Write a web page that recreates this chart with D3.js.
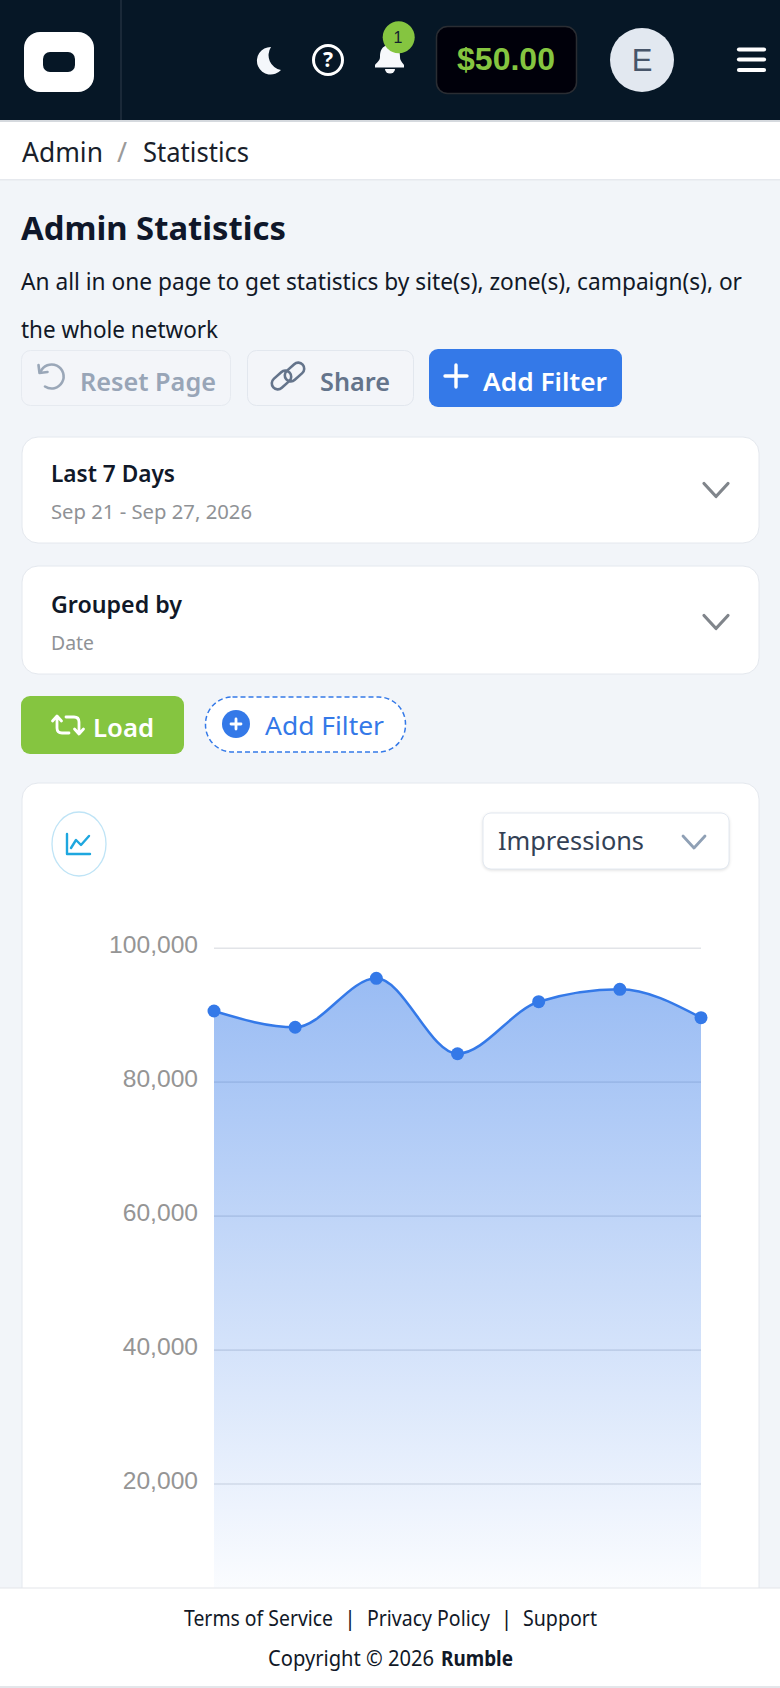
<!DOCTYPE html>
<html>
<head>
<meta charset="utf-8">
<script src="https://cdn.jsdelivr.net/npm/d3@7"></script>
<style>
  html, body { margin: 0; padding: 0; background: #f2f5f9; overflow: hidden; }
  svg { display: block; }
  text { font-family: "Noto Sans", sans-serif; }
</style>
</head>
<body>
<svg id="page"></svg>
<script>
const days = ["Sep 21", "Sep 22", "Sep 23", "Sep 24", "Sep 25", "Sep 26", "Sep 27"];
const impressions = [90550, 88120, 95430, 84170, 91940, 93790, 89550];
const yTicks = [0, 20000, 40000, 60000, 80000, 100000];

const svg = d3.select("#page").attr("width", 780).attr("height", 1688);
const BLUE = "#3479e8";

const label = (x, y, str, size, weight, color, width) => {
  const t = svg.append("text")
    .attr("x", x)
    .attr("y", y)
    .attr("font-size", size)
    .attr("font-weight", weight)
    .attr("fill", color)
    .text(str);
  if (width) t.attr("textLength", width).attr("lengthAdjust", "spacingAndGlyphs");
  return t;
};

const box = (x, y, w, h, r, fill, stroke) =>
  svg.append("rect")
    .attr("x", x).attr("y", y).attr("width", w).attr("height", h).attr("rx", r)
    .attr("fill", fill)
    .attr("stroke", stroke || "none");

const stroked = (d, color, width) =>
  svg.append("path")
    .attr("d", d)
    .attr("fill", "none")
    .attr("stroke", color)
    .attr("stroke-width", width)
    .attr("stroke-linecap", "round")
    .attr("stroke-linejoin", "round");

const chevron = (cx, cy, w, h, color, width) =>
  stroked(`M${cx - w / 2} ${cy - h / 2} L${cx} ${cy + h / 2} L${cx + w / 2} ${cy - h / 2}`, color, width);

// header
box(0, 0, 780, 120, 0, "#061726");
svg.append("rect").attr("x", 0).attr("y", 120).attr("width", 780).attr("height", 2).attr("fill", "#d5d9de");
svg.append("rect").attr("x", 120.5).attr("y", 0).attr("width", 1).attr("height", 120).attr("fill", "#2e3d4b");
box(24, 32, 70, 60, 16, "#fff");
box(43, 52, 32, 20, 7, "#061726");
svg.append("path")
  .attr("d", "M271 47 A13.8 13.8 0 1 0 281 70 A15 15 0 0 1 271 47 Z")
  .attr("fill", "#f4f7fb");
svg.append("circle").attr("cx", 328).attr("cy", 60).attr("r", 14.5)
  .attr("fill", "none").attr("stroke", "#fff").attr("stroke-width", 3);
label(328, 67, "?", 21, 700, "#fff").attr("text-anchor", "middle");
svg.append("path")
  .attr("d", "M390 45 C381 45 380 52 380 57 C380 61 376 63 375 65 L375 67.5 L404 67.5 L404 65 C403 63 400 61 400 57 C400 52 399 45 390 45 Z")
  .attr("fill", "#f6f8fb");
svg.append("path").attr("d", "M385 69 H395 A5 4.5 0 0 1 385 69 Z").attr("fill", "#f6f8fb");
svg.append("circle").attr("cx", 398.7).attr("cy", 37.3).attr("r", 16).attr("fill", "#85c540");
label(398, 43, "1", 16, 400, "#12222f").attr("text-anchor", "middle").style("font-family", "Liberation Sans");
box(436.5, 26.5, 140, 67, 11, "#00000a", "#2a2d33").attr("stroke-width", 1.5);
label(506, 70, "$50.00", 32, 700, "#85c540").attr("text-anchor", "middle").style("font-family", "Liberation Sans");
svg.append("circle").attr("cx", 642).attr("cy", 60).attr("r", 32).attr("fill", "#e2e8f0");
label(642, 71, "E", 31, 400, "#475569").attr("text-anchor", "middle").style("font-family", "Liberation Sans");
[49.5, 59.5, 70].forEach((y) => stroked(`M739 ${y} H764`, "#fff", 4.2));

// breadcrumb
box(0, 122, 780, 57, 0, "#fff");
svg.append("rect").attr("x", 0).attr("y", 179).attr("width", 780).attr("height", 1.5).attr("fill", "#e6e9ee");
label(22, 162, "Admin", 27, 400, "#1a1f2b", 81);
label(117, 162, "/", 27, 400, "#9a9a9a");
label(143, 162, "Statistics", 27, 400, "#1a1f2b", 106);

// title block
label(21, 239.5, "Admin Statistics", 33, 700, "#0f172a", 265);
label(21, 290, "An all in one page to get statistics by site(s), zone(s), campaign(s), or", 23.5, 400, "#111827", 721);
label(21, 338, "the whole network", 23.5, 400, "#111827", 197);

// top buttons
box(21.5, 350.5, 209, 55, 9, "#f3f5f9", "#e6eaf0");
stroked("M38.5 365 L39.5 373 L47.5 372", "#9aa7b8", 2.6);
stroked("M40.5 372 A12 12 0 1 1 45 386.5", "#9aa7b8", 2.6);
label(80, 391, "Reset Page", 26, 600, "#98a5b7", 136);
box(247.5, 350.5, 166, 55, 9, "#f3f5f9", "#e2e7ee");
box(270.5, 374, 22, 12, 6, "none", "#64748b")
  .attr("stroke-width", 2.6)
  .attr("transform", "rotate(-42 281.5 380)");
box(283.5, 366, 22, 12, 6, "none", "#64748b")
  .attr("stroke-width", 2.6)
  .attr("transform", "rotate(-42 294.5 372)");
label(320, 391, "Share", 26, 600, "#64748b", 70);
box(429, 349, 193, 58, 9, BLUE);
stroked("M456 365 V387 M445 376 H467", "#fff", 3.4);
label(483, 391, "Add Filter", 26, 600, "#fff", 124);

// filter cards
box(22, 437, 737, 106, 16, "#fff", "#e4e8ee");
label(51, 482, "Last 7 Days", 23.5, 600, "#101828", 124);
label(51, 519, "Sep 21 - Sep 27, 2026", 20.5, 400, "#8f9296", 201);
chevron(716, 490, 24, 13, "#80858b", 3.2);

box(22, 566, 737, 108, 16, "#fff", "#e4e8ee");
label(51, 613, "Grouped by", 23.5, 600, "#101828", 131);
label(51, 650, "Date", 20.5, 400, "#8f9296", 43);
chevron(716, 622, 24, 13, "#80858b", 3.2);

// load and add filter
box(21, 696, 163, 58, 9, "#85c540");
stroked("M52.5 721 L57 716 L61.5 721 M57 716.5 V728 Q57 733 62 733 H69", "#fff", 2.8);
stroked("M74.5 729 L79 734 L83.5 729 M79 733.5 V722 Q79 717 74 717 H66", "#fff", 2.8);
label(93, 737, "Load", 26, 600, "#fff", 61);
box(205.5, 697, 200, 55, 27, "#fff", BLUE).attr("stroke-dasharray", "5 3").attr("stroke-width", 1.5);
svg.append("circle").attr("cx", 236).attr("cy", 724).attr("r", 14).attr("fill", BLUE);
stroked("M236 719 V729 M231 724 H241", "#fff", 2.8);
label(265, 735, "Add Filter", 26, 400, BLUE, 119);

// chart card, runs under the footer
box(22, 783, 737, 900, 16, "#fff", "#e4e8ee");
svg.append("ellipse").attr("cx", 79).attr("cy", 844).attr("rx", 27).attr("ry", 32)
  .attr("fill", "#fff").attr("stroke", "#bfe4f6").attr("stroke-width", 1.3);
stroked("M67 834 V854 H90 M71 848 L76 840 L81 845 L89 836", "#1ea7df", 2.4);
box(483, 813, 246, 56, 8, "#fff", "#e2e8f0").style("filter", "drop-shadow(0 1px 1.5px rgba(0,0,0,.12))");
label(498, 850, "Impressions", 26, 400, "#334155", 146);
chevron(694, 842, 22, 12, "#8fa0b5", 2.8);

// chart
const x = d3.scalePoint().domain(days).range([214, 701]);
const y = d3.scaleLinear().domain([0, 100000]).range([1617.5, 947.7]);

const gradient = svg.append("defs").append("linearGradient")
  .attr("id", "area-fill")
  .attr("gradientUnits", "userSpaceOnUse")
  .attr("x1", 0).attr("x2", 0)
  .attr("y1", y(d3.max(impressions))).attr("y2", y(0));
gradient.append("stop").attr("offset", 0).attr("stop-color", BLUE).attr("stop-opacity", 0.5);
gradient.append("stop").attr("offset", 1).attr("stop-color", BLUE).attr("stop-opacity", 0);

const yAxis = svg.append("g")
  .attr("transform", "translate(214,0)")
  .call(d3.axisLeft(y).tickValues(yTicks.slice(1)).tickSize(-487).tickPadding(16).tickFormat(d3.format(",")));
yAxis.select(".domain").remove();
yAxis.selectAll("line").attr("stroke", "#e2e4e8").attr("stroke-width", 1.6);
yAxis.selectAll("text")
  .attr("font-size", 24.6)
  .attr("fill", "#959595")
  .attr("dy", "0.2em")
  .style("font-family", "Liberation Sans");

const curve = d3.curveMonotoneX;
svg.append("path")
  .datum(impressions)
  .attr("fill", "url(#area-fill)")
  .attr("d", d3.area().x((d, i) => x(days[i])).y0(y(0)).y1((d) => y(d)).curve(curve));
svg.append("path")
  .datum(impressions)
  .attr("fill", "none")
  .attr("stroke", BLUE)
  .attr("stroke-width", 2.5)
  .attr("d", d3.line().x((d, i) => x(days[i])).y((d) => y(d)).curve(curve));
svg.append("g").selectAll("circle")
  .data(impressions)
  .join("circle")
  .attr("cx", (d, i) => x(days[i]))
  .attr("cy", (d) => y(d))
  .attr("r", 6.5)
  .attr("fill", BLUE);

// footer
box(0, 1588, 780, 98, 0, "#fff");
svg.append("rect").attr("x", 0).attr("y", 1587.5).attr("width", 780).attr("height", 1).attr("fill", "#e3e6ea");
svg.append("rect").attr("x", 0).attr("y", 1686).attr("width", 780).attr("height", 2).attr("fill", "#e3e6ea");
label(184, 1626, "Terms of Service", 21, 400, "#111827", 149);
label(350, 1626, "|", 21, 400, "#111827").attr("text-anchor", "middle");
label(367, 1626, "Privacy Policy", 21, 400, "#111827", 123);
label(506.5, 1626, "|", 21, 400, "#111827").attr("text-anchor", "middle");
label(523, 1626, "Support", 21, 400, "#111827", 74);
label(268, 1666, "Copyright © 2026", 21, 400, "#111827", 166);
label(441, 1666, "Rumble", 21, 700, "#111827", 72);
</script>
</body>
</html>
